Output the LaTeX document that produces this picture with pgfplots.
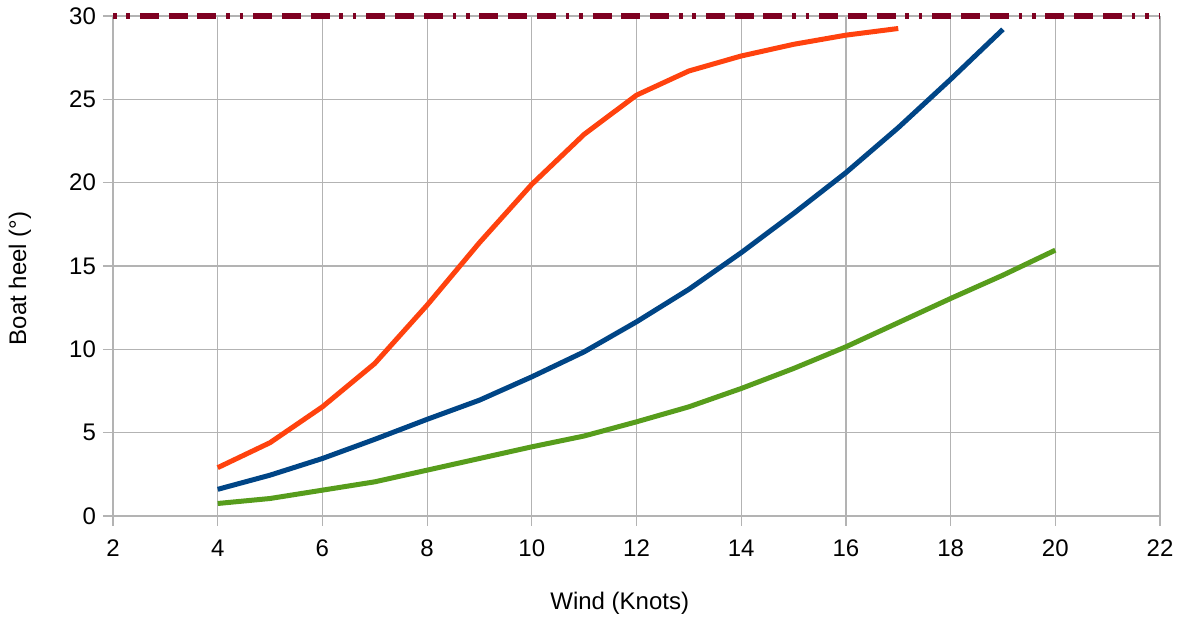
\documentclass[border=0pt]{standalone}
\usepackage{fontspec}
\setmainfont{Liberation Sans}
\usepackage{pgfplots}
\pgfplotsset{compat=1.18}
\definecolor{loblue}{HTML}{004586}
\definecolor{loorange}{HTML}{FF420E}
\definecolor{logreen}{HTML}{579D1C}
\definecolor{lored}{HTML}{7E0021}
\definecolor{gridgray}{HTML}{B3B3B3}
\begin{document}
\begin{tikzpicture}
\useasboundingbox (-56.5pt,-52pt) rectangle (535.5pt,258pt);
\begin{axis}[
  at={(0,0)}, anchor=south west,
  scale only axis, width=523.5pt, height=250pt,
  xmin=2, xmax=22, ymin=0, ymax=30,
  xtick={2,4,...,22}, ytick={0,5,...,30},
  xtick pos=bottom, ytick pos=left,
  grid=major,
  major grid style={draw=gridgray, line width=0.6pt},
  axis line style={draw=none},
  tick style={draw=gridgray, line width=0.6pt},
  tick align=outside, major tick length=5pt,
  ticklabel style={font=\fontsize{12}{14}\selectfont},
  xticklabel style={yshift=-3.5pt},
  /pgf/number format/assume math mode=true,
  clip=false,
  xlabel={Wind (Knots)},
  ylabel={Boat heel (°)},
  label style={font=\fontsize{12}{14}\selectfont},
  xlabel style={at={(axis description cs:0.484,0)}, anchor=center, yshift=-43.5pt},
  ylabel style={at={(axis description cs:-0.0888,0.475)}, anchor=center},
  every axis plot/.append style={line width=2.5pt, line join=round},
]
\addplot[logreen] coordinates {
(4,0.75) (5,1.05) (6,1.55) (7,2.05) (8,2.75) (9,3.45) (10,4.15) (11,4.8) (12,5.65)
(13,6.55) (14,7.65) (15,8.85) (16,10.15) (17,11.6) (18,13.05) (19,14.45) (20,15.95)};
\addplot[loblue] coordinates {
(4,1.6) (5,2.45) (6,3.45) (7,4.6) (8,5.8) (9,6.95) (10,8.35) (11,9.85) (12,11.65)
(13,13.6) (14,15.8) (15,18.15) (16,20.6) (17,23.3) (18,26.2) (19,29.2)};
\addplot[loorange] coordinates {
(4,2.9) (5,4.4) (6,6.55) (7,9.15) (8,12.65) (9,16.4) (10,19.9) (11,22.9) (12,25.25)
(13,26.7) (14,27.6) (15,28.3) (16,28.85) (17,29.25)};
\addplot[lored, line width=2.7pt, line cap=butt, dash pattern=on 1.8pt off 4.9pt on 1.8pt off 4.9pt on 9.5pt off 4.9pt on 9.5pt off 4.9pt on 9.5pt off 4.9pt] coordinates {(2,30) (22,30)};
\end{axis}
\end{tikzpicture}
\end{document}
